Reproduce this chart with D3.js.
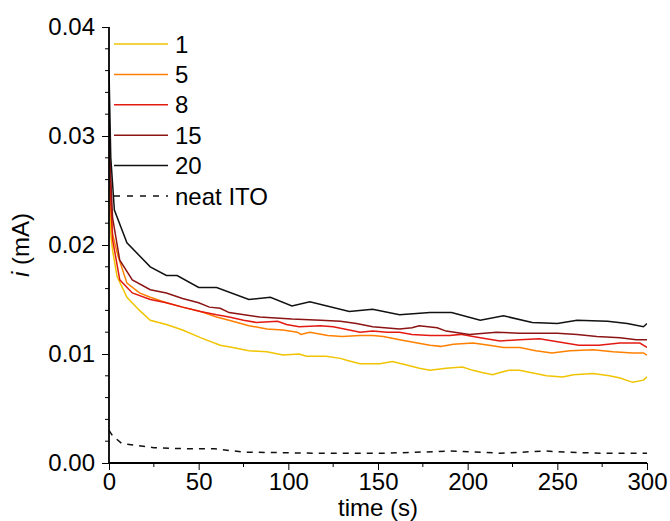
<!DOCTYPE html>
<html>
<head>
<meta charset="utf-8">
<title>Current vs time</title>
<script src="https://d3js.org/d3.v7.min.js"></script>
<style>
  body { margin: 0; background: #fff; }
  svg text { font-family: Arial, "Liberation Sans", sans-serif; fill: #000; }
</style>
</head>
<body>
<svg width="670" height="521"></svg>
<script>
// legend labels and line colours
const seriesNames = ["1", "5", "8", "15", "20", "neat ITO"];
const seriesColors = ["#f0c400", "#ff8000", "#e31a12", "#8b1414", "#111111", "#111111"];

// time (s), current (mA)
const t1 = [0, 1, 2, 4.5, 10, 17, 23, 32, 41, 51, 62, 69, 78, 88, 97, 106, 110, 121, 129, 133, 140, 151, 158, 166, 173, 179, 188, 197, 203, 208, 214, 218, 223, 229, 235, 244, 253, 259, 270, 279, 285, 292, 298, 300];
const i1 = [0.028, 0.021, 0.0195, 0.0171, 0.0152, 0.0140, 0.0131, 0.0127, 0.0122, 0.0115, 0.0108, 0.0106, 0.0103, 0.0102, 0.0099, 0.0100, 0.0098, 0.0098, 0.0096, 0.0094, 0.0091, 0.0091, 0.0093, 0.0090, 0.0087, 0.0085, 0.0087, 0.0088, 0.0085, 0.0083, 0.0081, 0.0083, 0.0085, 0.0085, 0.0083, 0.0080, 0.0079, 0.0081, 0.0082, 0.0080, 0.0078, 0.0074, 0.0076, 0.0079];

const t5 = [0, 1, 2, 5, 10, 17, 23, 32, 41, 51, 60, 69, 78, 88, 97, 105, 107, 112, 122, 130, 140, 147, 153, 162, 172, 179, 185, 192, 203, 212, 220, 229, 238, 247, 257, 270, 281, 292, 298, 300];
const i5 = [0.030, 0.024, 0.021, 0.019, 0.0165, 0.0156, 0.0152, 0.0147, 0.0143, 0.0139, 0.0134, 0.0130, 0.0126, 0.0123, 0.0122, 0.0120, 0.0118, 0.0120, 0.0117, 0.0116, 0.0117, 0.0117, 0.0116, 0.0113, 0.0110, 0.0108, 0.0107, 0.0109, 0.0110, 0.0108, 0.0106, 0.0106, 0.0103, 0.0101, 0.0103, 0.0104, 0.0102, 0.0101, 0.0101, 0.0099];

const t8 = [0, 1, 2, 6, 13, 23, 32, 41, 51, 60, 67, 75, 82, 94, 99, 106, 118, 125, 134, 140, 147, 155, 162, 169, 179, 190, 196, 207, 218, 229, 240, 251, 262, 273, 285, 296, 300];
const i8 = [0.032, 0.024, 0.0205, 0.0168, 0.0156, 0.0150, 0.0147, 0.0143, 0.0139, 0.0136, 0.0134, 0.0131, 0.0129, 0.0130, 0.0127, 0.0125, 0.0126, 0.0125, 0.0122, 0.0120, 0.0121, 0.0120, 0.0120, 0.0118, 0.0117, 0.0117, 0.0118, 0.0115, 0.0112, 0.0113, 0.0114, 0.0111, 0.0108, 0.0108, 0.0110, 0.0110, 0.0106];

const t15 = [0, 1, 2, 6, 13, 23, 32, 41, 50, 56, 62, 67, 84, 102, 118, 129, 138, 147, 162, 169, 173, 183, 188, 201, 216, 229, 250, 261, 272, 285, 294, 300];
const i15 = [0.031, 0.026, 0.0225, 0.0186, 0.0168, 0.0159, 0.0156, 0.0151, 0.0147, 0.0143, 0.0142, 0.0138, 0.0134, 0.0132, 0.0131, 0.0130, 0.0128, 0.0125, 0.0123, 0.0124, 0.0126, 0.0124, 0.0121, 0.0118, 0.0120, 0.0119, 0.0119, 0.0118, 0.0116, 0.0115, 0.0113, 0.0113];

const t20 = [0, 1, 3, 10, 23, 32, 38, 50, 60, 78, 90, 102, 112, 134, 147, 162, 179, 191, 207, 220, 236, 250, 261, 278, 289, 298, 300];
const i20 = [0.036, 0.028, 0.0232, 0.0202, 0.0180, 0.0172, 0.0172, 0.0161, 0.0161, 0.0150, 0.0152, 0.0144, 0.0148, 0.0139, 0.0141, 0.0136, 0.0138, 0.0138, 0.0131, 0.0135, 0.0129, 0.0128, 0.0131, 0.0130, 0.0128, 0.0125, 0.0128];

const tITO = [0, 2, 7, 25, 45, 59, 75, 114, 154, 174, 190, 204, 218, 244, 254, 274, 300];
const iITO = [0.0030, 0.0025, 0.0018, 0.0014, 0.0013, 0.0013, 0.0010, 0.0009, 0.0009, 0.0010, 0.0011, 0.0010, 0.0009, 0.0011, 0.0010, 0.0009, 0.0009];

const xTicks = [0, 50, 100, 150, 200, 250, 300];
const yTicks = [0, 0.01, 0.02, 0.03, 0.04];

const times = [t1, t5, t8, t15, t20, tITO];
const currents = [i1, i5, i8, i15, i20, iITO];

const svg = d3.select("svg");
const margin = {left: 109, right: 23, top: 27, bottom: 58};
const W = +svg.attr("width"), H = +svg.attr("height");

const x = d3.scaleLinear().domain([0, 300]).range([margin.left, W - margin.right]);
const y = d3.scaleLinear().domain([0, 0.04]).range([H - margin.bottom, margin.top]);

svg.append("clipPath").attr("id", "plot")
  .append("rect")
  .attr("x", margin.left).attr("y", margin.top)
  .attr("width", x(300) - x(0)).attr("height", y(0) - y(0.04));

const line = d3.line().x(d => x(d[0])).y(d => y(d[1]));

// curves
const g = svg.append("g").attr("clip-path", "url(#plot)");
seriesNames.forEach((name, k) => {
  const pts = times[k].map((t, j) => [t, currents[k][j]]);
  g.append("path")
    .datum(pts)
    .attr("d", line)
    .attr("fill", "none")
    .attr("stroke", seriesColors[k])
    .attr("stroke-width", 1.5)
    .attr("stroke-dasharray", name === "neat ITO" ? "6,6" : null);
});

// axes
const fontSize = 24;
const xAxis = svg.append("g").attr("transform", `translate(0,${y(0)})`)
  .call(d3.axisBottom(x).tickValues(xTicks).tickFormat(d3.format("d")).tickSize(7).tickPadding(3));
xAxis.append("g").selectAll("line")
  .data(d3.range(25, 300, 50))
  .join("line")
  .attr("x1", d => x(d)).attr("x2", d => x(d))
  .attr("y1", 0).attr("y2", 4).attr("stroke", "#000");

const yAxis = svg.append("g").attr("transform", `translate(${x(0)},0)`)
  .call(d3.axisLeft(y).tickValues(yTicks).tickFormat(d3.format(".2f")).tickSize(7).tickPadding(7));
yAxis.append("g").selectAll("line")
  .data(d3.range(0, 0.0401, 0.002).filter(v => Math.abs(v * 100 - Math.round(v * 100)) > 1e-6))
  .join("line")
  .attr("x1", 0).attr("x2", -4)
  .attr("y1", d => y(d)).attr("y2", d => y(d)).attr("stroke", "#000");

[xAxis, yAxis].forEach(a => {
  a.select(".domain").attr("stroke-width", 1.8);
  a.selectAll(".tick line").attr("stroke-width", 1);
  a.selectAll("text").attr("font-size", fontSize).attr("font-family", null).attr("fill", "#000");
});
xAxis.select(".domain").attr("d", `M${x(0)},0H${x(300)}`);
yAxis.select(".domain").attr("d", `M0,${y(0)}V${y(0.04)}`);

// axis titles
svg.append("text")
  .attr("x", (x(0) + x(300)) / 2) .attr("y", 516)
  .attr("text-anchor", "middle").attr("font-size", fontSize)
  .text("time (s)");

const yl = svg.append("text")
  .attr("transform", `translate(29,${(y(0) + y(0.04)) / 2}) rotate(-90)`)
  .attr("text-anchor", "middle").attr("font-size", fontSize);
yl.append("tspan").attr("font-style", "italic").text("i");
yl.append("tspan").text(" (mA)");

// legend
const leg = svg.append("g");
seriesNames.forEach((name, k) => {
  const ly = 44 + k * 30.4;
  leg.append("line")
    .attr("x1", 114).attr("x2", 168).attr("y1", ly).attr("y2", ly)
    .attr("stroke", seriesColors[k]).attr("stroke-width", 1.5)
    .attr("stroke-dasharray", name === "neat ITO" ? "6,7" : null);
  leg.append("text")
    .attr("x", 175).attr("y", ly + 8.5)
    .attr("font-size", fontSize)
    .text(name);
});
</script>
</body>
</html>
